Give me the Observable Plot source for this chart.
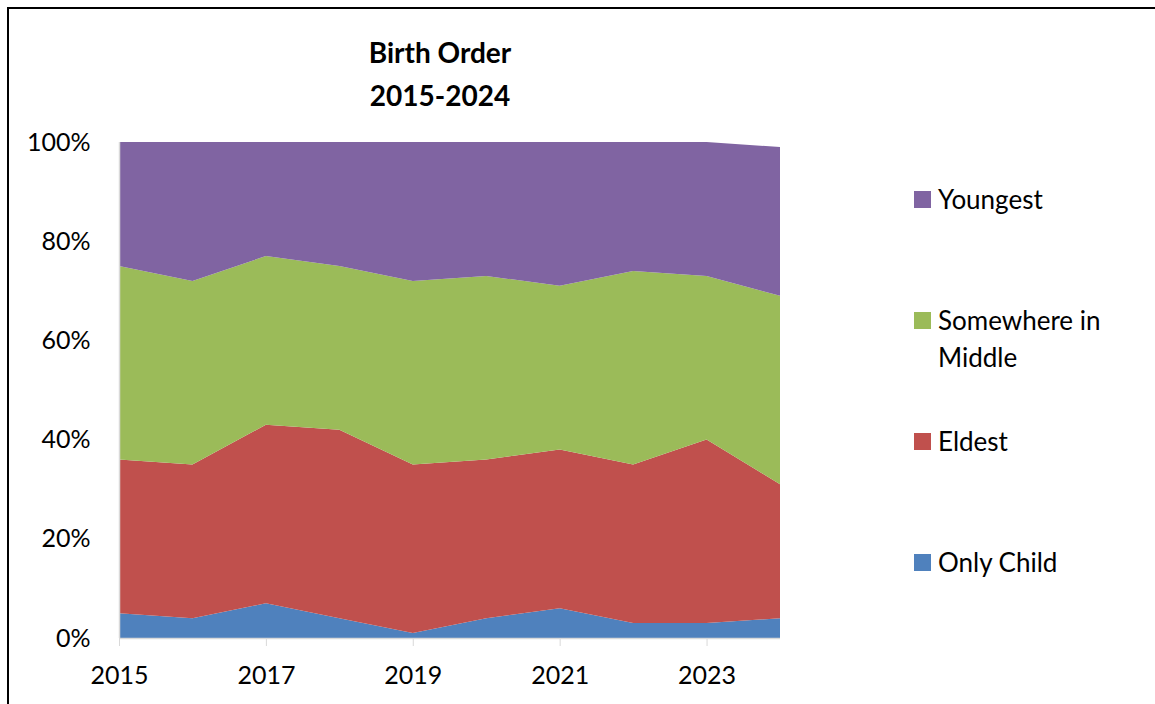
<!DOCTYPE html>
<html>
<head>
<meta charset="utf-8">
<script src="https://cdn.jsdelivr.net/npm/d3@7"></script>
<script src="https://cdn.jsdelivr.net/npm/@observablehq/plot@0.6"></script>
<style>
  html, body { margin: 0; padding: 0; background: #fff; overflow: hidden; }
  #wrap { position: relative; width: 1155px; height: 704px; font-family: Lato, "Open Sans", sans-serif; color: #000; }
  #frame { position: absolute; left: 7px; top: 7px; width: 1200px; height: 760px; border-left: 2px solid #000; border-top: 2px solid #000; box-sizing: border-box; }
  #chart { position: absolute; left: 0; top: 0; }
  .title { position: absolute; left: 290px; width: 300px; text-align: center; font-weight: bold; font-size: 28px; line-height: 34px; white-space: nowrap; }
  .leg { position: absolute; left: 914px; font-size: 26px; line-height: 37px; white-space: nowrap; }
  .sw { position: absolute; left: 0; width: 17px; height: 17px; }
  .lt { position: absolute; left: 24px; }
</style>
</head>
<body>
<div id="wrap">
  <div id="frame"></div>
  <div id="chart"></div>
</div>
<script>
const years = [2015, 2016, 2017, 2018, 2019, 2020, 2021, 2022, 2023, 2024];
const onlyChild = [5, 4, 7, 4, 1, 4, 6, 3, 3, 4];
const eldest = [31, 31, 36, 38, 34, 32, 32, 32, 37, 27];
const middle = [39, 37, 34, 33, 37, 37, 33, 39, 33, 38];
const youngest = [25, 28, 23, 25, 28, 27, 29, 26, 27, 30];
const seriesNames = ["Only Child", "Eldest", "Somewhere in Middle", "Youngest"];
const seriesColors = ["#4F81BD", "#C0504D", "#9BBB59", "#8064A2"];
const xTicks = [2015, 2017, 2019, 2021, 2023];
const yTicks = [0, 20, 40, 60, 80, 100];
const titleLines = ["Birth Order", "2015-2024"];
const legendOrder = ["Youngest", "Somewhere in Middle", "Eldest", "Only Child"];

const seriesValues = [onlyChild, eldest, middle, youngest];
const data = [];
seriesNames.forEach((s, i) => years.forEach((y, j) => data.push({year: y, series: s, value: seriesValues[i][j]})));

const chart = Plot.plot({
  width: 1155,
  height: 704,
  marginLeft: 119,
  marginRight: 375,
  marginTop: 142,
  marginBottom: 66,
  style: {fontFamily: "Lato, 'Open Sans', sans-serif", fontSize: "25px", color: "#000", background: "transparent", overflow: "visible"},
  x: {domain: [2015, 2024]},
  y: {domain: [0, 100]},
  color: {domain: seriesNames, range: seriesColors},
  marks: [
    Plot.areaY(data, {x: "year", y: "value", fill: "series", z: "series", order: seriesNames, curve: "linear"}),
    Plot.ruleY([0], {stroke: "#d9d9d9", strokeWidth: 1.5}),
    Plot.ruleX([2015], {stroke: "#d9d9d9", strokeWidth: 1.5}),
    Plot.axisX({ticks: xTicks, tickFormat: d => String(d), tickSize: 8, tickPadding: 20, stroke: "#d9d9d9", fill: "#000", label: null, fontSize: 25}),
    Plot.axisY({ticks: yTicks, tickFormat: d => d + "%", tickSize: 0, tickPadding: 29, fill: "#000", label: null, fontSize: 25})
  ]
});
document.getElementById("chart").appendChild(chart);

const wrap = document.getElementById("wrap");
const titleTops = [35, 78];
titleLines.forEach((t, i) => {
  const d = document.createElement("div");
  d.className = "title";
  d.style.top = titleTops[i] + "px";
  d.textContent = t;
  wrap.appendChild(d);
});

const legendTops = [181, 302, 423, 544];
legendOrder.forEach((name, i) => {
  const idx = seriesNames.indexOf(name);
  const g = document.createElement("div");
  g.className = "leg";
  g.style.top = legendTops[i] + "px";
  const sw = document.createElement("div");
  sw.className = "sw";
  sw.style.top = "10px";
  sw.style.background = seriesColors[idx];
  g.appendChild(sw);
  const lt = document.createElement("div");
  lt.className = "lt";
  if (name === "Somewhere in Middle") {
    lt.innerHTML = "Somewhere in<br>Middle";
  } else {
    lt.textContent = name;
  }
  g.appendChild(lt);
  wrap.appendChild(g);
});
</script>
</body>
</html>
